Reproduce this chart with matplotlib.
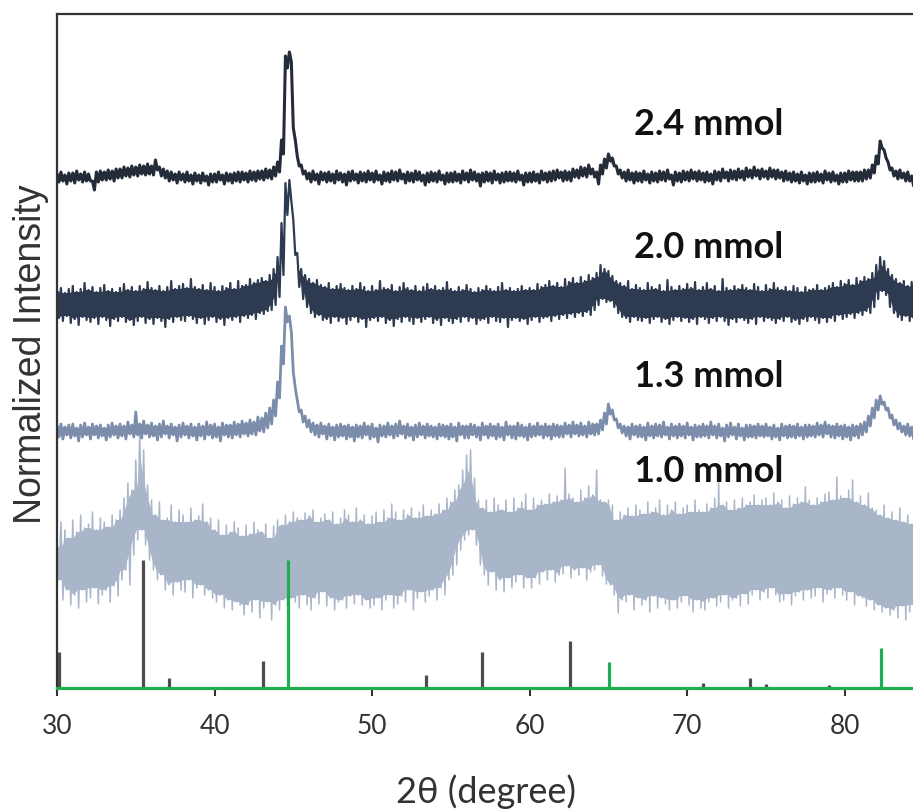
import numpy as np
import matplotlib.pyplot as plt

# 2-theta grid of the scans (0.25 deg step)
two_theta = np.arange(30.0, 85.0, 0.25)

# Upper / lower edge of each noisy diffractogram, counts above the scan's own
# background (four points per degree, one degree per group)
scan_2p4_hi = [
    4, 6, 3, 5,  5, 7, 4, 6,  4, -3, 6, 7,  6, 8, 7, 9,  9, 11, 10, 12,
    11, 13, 12, 14,  12, 18, 11, 9,  7, 6, 4, 6,  4, 6, 3, 5,  3, 5, 2, 4,
    4, 6, 3, 5,  4, 5, 6, 6,  5, 7, 6, 7,  7, 9, 8, 11,  16, 38, 122, 126,
    50, 22, 13, 7,  5, 7, 4, 6,  5, 6, 4, 7,  5, 4, 6, 7,  4, 6, 5, 7,
    5, 7, 3, 6,  5, 7, 6, 8,  4, 6, 5, 7,  6, 3, 5, 6,  5, 7, 3, 5,
    5, 6, 4, 7,  5, 8, 6, 4,  5, 6, 5, 7,  4, 5, 6, 6,  5, 7, 3, 5,
    5, 6, 4, 7,  5, 6, 7, 8,  6, 7, 6, 9,  8, 11, 10, 13,  9, 6, 13, 19,
    24, 20, 12, 8,  6, 8, 5, 6,  5, 7, 4, 6,  5, 7, 6, 8,  3, 6, 5, 7,
    6, 8, 6, 7,  5, 6, 4, 7,  6, 9, 6, 8,  7, 9, 7, 10,  8, 11, 8, 9,
    7, 10, 8, 8,  6, 7, 5, 6,  4, 6, 3, 5,  5, 6, 4, 7,  5, 6, 3, 5,
    5, 7, 6, 6,  6, 8, 8, 13,  22, 37, 28, 16,  10, 7, 8, 5,  6, 2, 5, 6,
]
scan_2p4_lo = [
    -4, -3, -6, -3,  -5, -2, -4, -3,  -3, -12, -4, -2,  -2, -1, -3, 0,  0, 2, 1, 3,
    2, 4, 3, 4,  3, 8, 2, 0,  -3, -2, -5, -2,  -4, -3, -6, -3,  -5, -3, -7, -4,
    -4, -2, -6, -3,  -5, -3, -4, -2,  -4, -2, -3, -1,  -2, 0, -1, 2,  6, 24, 110, 116,
    38, 12, 4, -1,  -4, -2, -6, -2,  -4, -3, -5, -2,  -4, -7, -3, -2,  -5, -3, -4, -2,
    -4, -2, -6, -3,  -4, -2, -3, -1,  -5, -3, -4, -2,  -3, -7, -4, -3,  -4, -2, -6, -4,
    -4, -3, -5, -2,  -4, -2, -3, -8,  -4, -3, -5, -2,  -5, -4, -3, -3,  -4, -2, -7, -4,
    -4, -3, -5, -2,  -4, -3, -2, 0,  -3, -2, -3, 1,  0, 2, 1, 4,  1, -6, 4, 10,
    17, 12, 4, 0,  -3, -2, -5, -3,  -4, -2, -5, -3,  -4, -2, -3, -1,  -7, -3, -4, -2,
    -3, -1, -3, -2,  -4, -3, -6, -2,  -3, 0, -3, -1,  -2, 0, -2, 1,  0, 2, -1, 1,
    -1, 1, -1, 0,  -3, -2, -4, -3,  -5, -3, -6, -4,  -4, -3, -5, -2,  -4, -3, -6, -4,
    -4, -2, -3, -3,  -3, -1, 0, 5,  14, 30, 20, 8,  2, -1, 0, -3,  -3, -8, -4, -3,
]
scan_2p0_hi = [
    14, 17, 12, 16,  19, 13, 16, 22,  15, 18, 13, 17,  20, 14, 16, 13,  17, 21, 15, 18,
    14, 19, 16, 23,  17, 15, 19, 14,  18, 24, 16, 19,  21, 17, 26, 18,  16, 20, 15, 22,
    18, 14, 19, 17,  22, 16, 24, 19,  20, 26, 22, 25,  27, 24, 30, 36,  48, 82, 122, 125,
    85, 52, 36, 30,  26, 22, 25, 20,  18, 22, 16, 19,  21, 17, 15, 19,  16, 22, 18, 14,
    19, 15, 24, 17,  16, 20, 14, 18,  22, 17, 15, 19,  14, 18, 21, 16,  19, 15, 17, 23,
    16, 14, 18, 15,  20, 16, 13, 17,  15, 19, 16, 14,  18, 22, 15, 17,  14, 16, 19, 15,
    17, 15, 21, 18,  20, 24, 19, 22,  18, 26, 23, 27,  22, 28, 24, 30,  27, 32, 40, 36,
    34, 29, 24, 22,  19, 24, 16, 20,  17, 15, 22, 18,  16, 20, 14, 25,  18, 15, 19, 16,
    21, 17, 23, 15,  18, 22, 16, 19,  14, 26, 17, 15,  19, 16, 20, 17,  15, 21, 18, 14,
    20, 16, 22, 17,  15, 18, 14, 19,  17, 13, 18, 15,  16, 20, 15, 17,  19, 22, 18, 24,
    21, 25, 20, 27,  24, 28, 26, 32,  40, 48, 44, 36,  30, 26, 22, 24,  19, 23, 17, 20,
]
scan_2p0_lo = [
    -13, -16, -11, -18,  -14, -20, -12, -15,  -17, -13, -19, -12,  -15, -21, -14, -16,
    -12, -17, -15, -20,  -16, -12, -18, -14,  -19, -13, -16, -22,  -14, -17, -12, -15,
    -16, -11, -14, -18,  -13, -19, -15, -12,  -17, -14, -20, -13,  -15, -12, -17, -11,
    -13, -10, -14, -8,  -9, -6, -5, 0,  8, 30, 90, 104,  50, 18, 6, -2,
    -8, -12, -10, -15,  -14, -18, -12, -16,  -13, -19, -15, -12,  -17, -14, -22, -15,
    -13, -16, -12, -18,  -15, -21, -14, -17,  -12, -16, -19, -13,  -17, -14, -12, -18,
    -15, -20, -13, -16,  -18, -14, -17, -12,  -16, -13, -19, -15,  -14, -18, -12, -16,
    -17, -13, -22, -15,  -13, -16, -14, -19,  -15, -12, -17, -13,  -12, -16, -11, -14,
    -10, -13, -9, -12,  -8, -11, -7, -10,  -5, 0, 6, 3,  4, -2, -8, -12,
    -13, -17, -12, -15,  -16, -13, -18, -14,  -12, -17, -14, -19,  -15, -12, -16, -13,
    -17, -14, -19, -12,  -14, -18, -13, -16,  -12, -16, -20, -14,  -17, -13, -15, -18,
    -14, -19, -12, -16,  -13, -15, -18, -14,  -16, -12, -17, -15,  -19, -14, -16, -12,
    -15, -18, -13, -17,  -13, -16, -10, -14,  -12, -9, -13, -8,  -10, -6, -8, -2,
    6, 14, 10, -2,  -8, -12, -15, -11,  -16, -13, -18, -14,
]
scan_1p3_hi = [
    6, 8, 5, 7,  8, 4, 7, 9,  5, 8, 6, 7,  4, 7, 9, 6,  8, 6, 10, 7,
    20, 8, 11, 7,  9, 6, 8, 11,  6, 8, 5, 7,  9, 6, 8, 5,  8, 6, 10, 7,
    8, 5, 9, 7,  7, 10, 8, 11,  9, 12, 10, 15,  14, 19, 24, 32,  50, 86, 125, 116,
    60, 32, 22, 16,  12, 9, 7, 9,  6, 8, 5, 7,  8, 6, 7, 5,  7, 6, 9, 6,
    8, 4, 7, 6,  9, 6, 8, 11,  6, 8, 5, 7,  9, 6, 8, 6,  5, 8, 7, 6,
    8, 5, 9, 6,  6, 8, 7, 5,  9, 6, 8, 6,  8, 5, 10, 6,  6, 9, 7, 5,
    8, 6, 9, 6,  8, 6, 8, 7,  6, 9, 7, 10,  7, 9, 6, 10,  8, 8, 12, 19,
    28, 22, 13, 8,  6, 5, 8, 6,  7, 5, 9, 6,  8, 7, 10, 5,  8, 6, 8, 6,
    9, 5, 7, 6,  8, 6, 10, 6,  8, 4, 7, 9,  5, 8, 4, 7,  7, 6, 8, 6,
    8, 5, 7, 4,  8, 6, 7, 6,  8, 5, 7, 7,  6, 9, 7, 10,  7, 6, 8, 6,
    7, 5, 7, 6,  8, 10, 16, 24,  32, 36, 30, 24,  17, 12, 9, 6,  8, 5, 7, 6,
]
scan_1p3_lo = [
    -5, -7, -3, -6,  -4, -9, -5, -3,  -7, -3, -6, -4,  -8, -5, -3, -6,  -4, -7, -2, -5,
    -3, -6, -2, -5,  -4, -8, -5, -2,  -6, -3, -9, -5,  -3, -6, -4, -8,  -4, -7, -3, -6,
    -5, -9, -3, -5,  -6, -3, -5, -2,  -4, -2, -3, 1,  0, 4, 8, 16,  34, 68, 110, 100,
    44, 20, 10, 5,  0, -3, -5, -2,  -7, -4, -8, -5,  -4, -7, -5, -9,  -5, -6, -3, -7,
    -5, -10, -4, -5,  -3, -6, -4, -2,  -6, -4, -8, -5,  -3, -6, -4, -5,  -7, -4, -5, -7,
    -5, -9, -3, -6,  -6, -3, -5, -8,  -3, -6, -4, -7,  -5, -8, -3, -6,  -7, -4, -5, -8,
    -5, -4, -3, -6,  -4, -7, -4, -5,  -5, -2, -5, -2,  -4, -3, -5, -2,  -3, -2, 2, 8,
    18, 12, 4, -1,  -4, -7, -3, -5,  -5, -8, -4, -6,  -4, -5, -3, -7,  -4, -6, -4, -6,
    -3, -8, -5, -5,  -4, -6, -3, -6,  -4, -9, -5, -3,  -7, -4, -8, -5,  -5, -6, -4, -5,
    -4, -7, -5, -8,  -4, -6, -5, -6,  -4, -7, -5, -4,  -5, -3, -5, -2,  -5, -6, -4, -7,
    -5, -8, -4, -6,  -3, 0, 6, 14,  22, 28, 22, 14,  7, 3, 0, -3,  -4, -7, -5, -6,
]
scan_1p0_hi = [
    13, 38, 30, 22,  40, 28, 45, 32,  36, 48, 30, 42,  38, 33, 45, 40,  50, 62, 77, 70,
    100, 128, 110, 75,  60, 45, 58, 40,  42, 55, 38, 50,  45, 38, 52, 40,  44, 56, 38, 42,
    30, 40, 25, 35,  28, 38, 32, 24,  35, 26, 38, 30,  28, 36, 22, 34,  40, 35, 45, 38,
    48, 42, 40, 47,  44, 50, 38, 42,  46, 40, 48, 36,  42, 50, 45, 38,  52, 40, 45, 36,
    44, 48, 38, 50,  42, 56, 48, 40,  50, 45, 52, 42,  48, 55, 44, 50,  46, 56, 50, 62,
    58, 70, 75, 90,  105, 110, 82, 60,  52, 60, 48, 62,  55, 50, 60, 48,  62, 52, 58, 66,
    50, 62, 55, 60,  56, 66, 58, 64,  60, 92, 66, 62,  58, 70, 62, 74,  65, 90, 60, 58,
    60, 55, 40, 48,  45, 52, 44, 55,  50, 46, 58, 48,  52, 60, 45, 55,  50, 58, 46, 52,
    55, 48, 60, 50,  48, 56, 52, 62,  77, 55, 58, 50,  60, 52, 62, 55,  58, 65, 55, 60,
    62, 55, 67, 58,  60, 52, 64, 56,  62, 58, 73, 60,  55, 62, 58, 66,  68, 60, 83, 64,
    62, 70, 80, 58,  64, 55, 67, 52,  50, 45, 55, 42,  48, 40, 52, 38,  45, 36, 42, 40,
]
scan_1p0_lo = [
    -20, -40, -30, -45,  -35, -48, -30, -42,  -38, -28, -44, -35,  -30, -42, -26, -36,
    -20, -10, -25, 5,  20, 30, 15, 0,  -10, -20, -15, -30,  -25, -35, -22, -30,
    -32, -20, -38, -28,  -25, -35, -30, -38,  -42, -35, -48, -40,  -50, -42, -45, -55,
    -45, -52, -40, -58,  -48, -42, -60, -45,  -50, -40, -45, -38,  -42, -48, -35, -45,
    -50, -38, -44, -32,  -46, -38, -50, -42,  -40, -48, -36, -44,  -35, -45, -40, -48,
    -45, -38, -50, -40,  -35, -48, -44, -36,  -42, -30, -50, -38,  -32, -42, -36, -30,
    -40, -28, -35, -20,  -15, -5, 10, 20,  25, 30, 15, -5,  -15, -25, -12, -30,
    -20, -32, -18, -28,  -22, -15, -28, -18,  -28, -18, -24, -12,  -20, -10, -22, -15,
    -14, -6, -18, -10,  -15, -8, -20, -12,  -10, -5, -16, -24,  -25, -35, -53, -40,
    -42, -35, -50, -38,  -45, -40, -52, -36,  -48, -38, -44, -50,  -40, -48, -42, -36,
    -45, -52, -40, -48,  -50, -42, -38, -46,  -42, -35, -48, -40,  -38, -46, -34, -44,
    -35, -30, -40, -32,  -38, -28, -35, -42,  -40, -34, -45, -36,  -32, -40, -30, -38,
    -36, -28, -42, -34,  -30, -38, -28, -35,  -40, -32, -45, -36,  -38, -46, -40, -50,
    -45, -52, -48, -55,  -50, -58, -46, -60,  -52, -45, -56, -48,
]

scan_labels = ["2.4 mmol", "2.0 mmol", "1.3 mmol", "1.0 mmol"]

# Reference stick patterns (relative intensity, %)
oxide_pos = [30.1, 35.45, 37.1, 43.1, 47.2, 53.45, 56.95, 62.55, 71.0, 74.0, 75.0, 79.0]
oxide_int = [28, 100, 8, 21, 1, 10, 28, 37, 4, 8, 3, 2]
metal_pos = [44.67, 65.02, 82.33]
metal_int = [100, 20, 31]

# stacking offsets and colours
offsets = [510, 383, 256, 128]
colors = ["#242b39", "#2d3a50", "#7b8dab", "#a9b5c9"]
widths = [2.2, 1.6, 2.0, 1.1]
label_y = [553, 430, 301, 206]
stick_scale = 1.28


def inner_edge(v, pick):
    # narrowest value among each point and its two neighbours
    p = np.pad(np.asarray(v, dtype=float), 1, mode="edge")
    return pick.reduce([p[:-2], p[1:-1], p[2:]])


fig = plt.figure(figsize=(9.13, 8.10), dpi=100)
ax = fig.add_axes([57 / 913, 1 - 688 / 810, 1 - 57 / 913 + 0.002, 674 / 810])

bands = [
    (scan_2p4_hi, scan_2p4_lo),
    (scan_2p0_hi, scan_2p0_lo),
    (scan_1p3_hi, scan_1p3_lo),
    (scan_1p0_hi, scan_1p0_lo),
]
# each scan: a solid core between the inner edges, plus a fast zigzag between
# its upper and lower edge (lower points half a step after the upper ones)
x_zig = np.column_stack([two_theta, two_theta + 0.125]).ravel()
for i in (3, 2, 1, 0):
    hi, lo = bands[i]
    z = 2 + (3 - i) * 0.1
    core_hi = inner_edge(hi, np.minimum)
    core_lo = np.minimum(inner_edge(lo, np.maximum), core_hi)
    ax.fill_between(two_theta + 0.0625, core_lo + offsets[i], core_hi + offsets[i],
                    facecolor=colors[i], lw=0, zorder=z)
    y_zig = np.column_stack([hi, lo]).ravel().astype(float) + offsets[i]
    ax.plot(x_zig, y_zig, color=colors[i], lw=widths[i], zorder=z)

ax.vlines(oxide_pos, 0, np.asarray(oxide_int) * stick_scale, color="#4d4d4d", lw=2.3, zorder=3)
ax.vlines(metal_pos, 0, np.asarray(metal_int) * stick_scale, color="#1fae4f", lw=2.3, zorder=4)
ax.axhline(0, color="#1fae4f", lw=2.3, zorder=5, clip_on=False)

for lab, ly in zip(scan_labels, label_y):
    ax.text(66.6, ly, lab, fontsize=26, fontweight="bold", family=["Lato", "DejaVu Sans"],
            ha="left", va="baseline", color="#111111")

ax.set_xlim(30, 84.45)
ax.set_ylim(0, 674)
ax.set_xticks([30, 40, 50, 60, 70, 80])
ax.set_yticks([])
for lbl in ax.get_xticklabels():
    lbl.set_family(["Lato", "DejaVu Sans"])
ax.tick_params(axis="x", direction="out", length=6, width=1.5, color="#333333",
               labelsize=19, labelcolor="#333333", pad=13)

for side in ("right", "bottom"):
    ax.spines[side].set_visible(False)
for side in ("left", "top"):
    ax.spines[side].set_color("#333333")
    ax.spines[side].set_linewidth(1.6)

ax.set_xlabel("2θ (degree)", fontsize=26, family=["Lato", "DejaVu Sans"], color="#333333", labelpad=25)
fig.text(31 / 913, 1 - 354 / 810, "Normalized Intensity", rotation=90, ha="center", va="center",
         fontsize=27, family=["Liberation Sans", "DejaVu Sans"], color="#333333")

fig.savefig("out.png", dpi=100)
